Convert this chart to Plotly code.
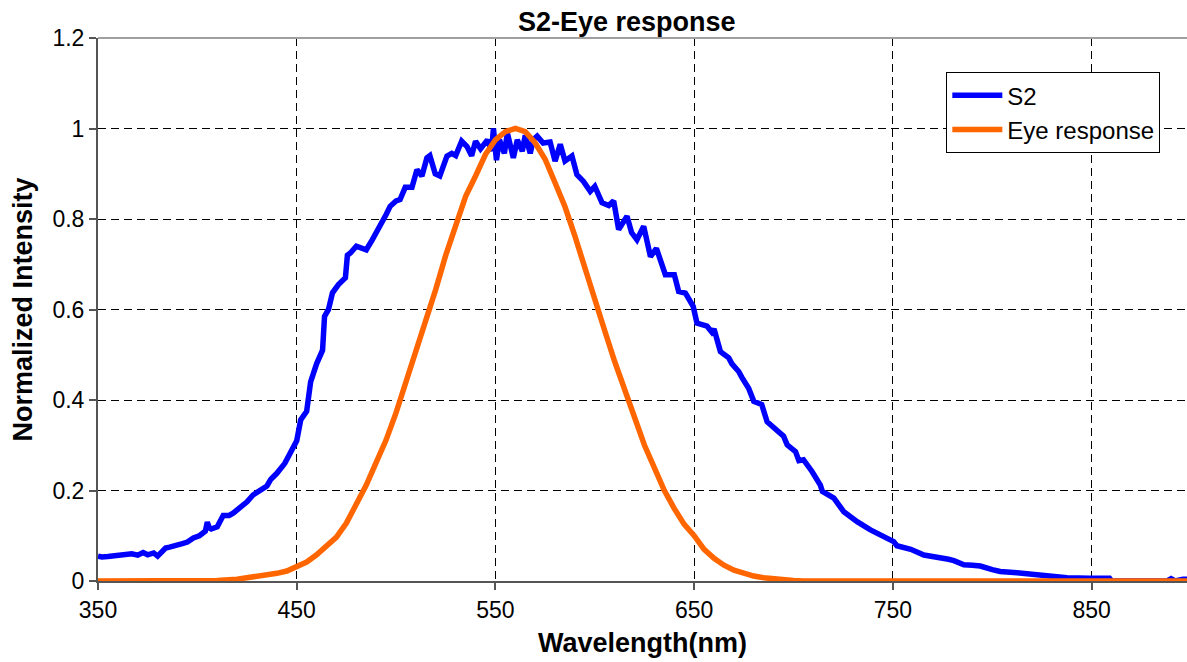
import plotly.graph_objects as go

# S2 spectrum (wavelength nm, normalized intensity)
s2_wl = [350, 352, 355, 358, 361, 364, 367, 370, 372.7, 375, 378, 380, 384, 386, 389, 392, 395, 398, 401,
         404, 405, 406, 407, 410, 413, 416, 418, 421, 425, 428, 432, 435, 437, 440, 444, 447,
         450, 452, 455, 457, 460, 463, 464, 466, 468, 471, 473, 474.5, 475.5, 477, 480, 483, 485, 488,
         492, 495, 497, 500, 502, 504.6, 508, 510.5, 513, 515.5, 517, 519.7, 522, 524, 525.6, 528, 530,
         533, 535.7, 538, 540, 542.5, 546, 548, 549, 550.5, 552, 554.5, 556, 559, 561, 563.5, 565, 567.5,
         569, 571, 574, 577.5, 580, 582.6, 585, 588.5, 591, 594.3, 597.7, 600, 603.6, 607, 609.5, 612,
         614, 616.2, 618.5, 621.2, 624.6, 628, 631, 635.5, 640, 642.2, 645.6, 649.5, 651.4, 656.5, 658.9,
         660, 663.2, 667.4, 669, 672.4, 674, 677.4, 680, 684, 686.7, 691.7, 695, 696.8, 701, 702.7, 705,
         709.3, 711, 713.5, 714.5, 720.3, 725.3, 732, 738.7, 745.4, 750.4, 752, 755.5, 759, 765.6, 770,
         774, 778, 780.7, 785.7, 790, 794, 800, 804, 812.5, 821, 829, 837.6, 849, 859, 860, 888, 890,
         892, 896, 898]
s2_val = [0.055, 0.053, 0.054, 0.056, 0.055, 0.058, 0.060, 0.057, 0.063, 0.058, 0.062, 0.055, 0.073, 0.075, 0.080, 0.082, 0.086, 0.095, 0.100,
          0.110, 0.130, 0.118, 0.115, 0.120, 0.145, 0.145, 0.150, 0.160, 0.175, 0.190, 0.200, 0.210, 0.225, 0.238, 0.260, 0.285,
          0.310, 0.356, 0.375, 0.440, 0.480, 0.510, 0.585, 0.600, 0.637, 0.655, 0.665, 0.670, 0.720, 0.725, 0.740, 0.735, 0.732, 0.754,
          0.784, 0.810, 0.828, 0.840, 0.843, 0.870, 0.870, 0.909, 0.895, 0.935, 0.940, 0.900, 0.895, 0.920, 0.939, 0.945, 0.940,
          0.972, 0.960, 0.940, 0.972, 0.955, 0.975, 0.950, 1.000, 0.930, 0.975, 0.945, 0.990, 0.935, 0.975, 0.950, 0.985, 0.945,
          0.975, 0.983, 0.968, 0.970, 0.928, 0.965, 0.928, 0.939, 0.898, 0.883, 0.861, 0.872, 0.836, 0.830, 0.840, 0.777,
          0.790, 0.806, 0.770, 0.754, 0.784, 0.717, 0.735, 0.677, 0.677, 0.640, 0.636, 0.607, 0.570, 0.563, 0.550,
          0.557, 0.507, 0.493, 0.480, 0.463, 0.450, 0.426, 0.397, 0.390, 0.352, 0.334, 0.320, 0.301, 0.286, 0.266, 0.268,
          0.242, 0.231, 0.212, 0.198, 0.183, 0.153, 0.131, 0.113, 0.098, 0.087, 0.078, 0.075, 0.070, 0.0575, 0.055,
          0.050, 0.048, 0.045, 0.036, 0.035, 0.033, 0.025, 0.021, 0.018, 0.014, 0.011, 0.007, 0.006, 0.006, 0.0, 0.0, 0.005,
          0.0, 0.004, 0.004]

# Eye response (photopic)
eye_wl = [350, 400, 410, 420, 430, 440, 445, 450, 455, 460, 465, 470, 475, 480, 485, 490, 495, 500, 505, 510,
          515, 520, 525, 530, 535, 540, 545, 550, 555, 560, 565, 570, 575, 580, 585, 590, 595, 600, 605, 610,
          615, 620, 625, 630, 635, 640, 645, 650, 655, 660, 665, 670, 675, 680, 685, 690, 695, 700, 705, 900]
eye_val = [0.0, 0.0, 0.001, 0.004, 0.009, 0.017, 0.022, 0.031, 0.042, 0.058, 0.076, 0.097, 0.128, 0.168, 0.212, 0.262, 0.312, 0.372, 0.440, 0.505,
           0.570, 0.645, 0.720, 0.790, 0.850, 0.895, 0.943, 0.975, 0.993, 1.000, 0.993, 0.968, 0.932, 0.880, 0.827, 0.762, 0.690, 0.620, 0.553, 0.485,
           0.425, 0.360, 0.300, 0.250, 0.200, 0.160, 0.125, 0.100, 0.070, 0.050, 0.035, 0.024, 0.016, 0.011, 0.007, 0.004, 0.002, 0.001, 0.0, 0.0]

FONT = "Arial, 'Liberation Sans', sans-serif"

fig = go.Figure()
fig.add_trace(go.Scatter(x=s2_wl, y=s2_val, mode="lines", name="S2",
                         line=dict(color="#0000FF", width=5.5)))
fig.add_trace(go.Scatter(x=eye_wl, y=eye_val, mode="lines", name="Eye response",
                         line=dict(color="#FF6600", width=5.5)))

fig.update_layout(
    width=1187, height=662,
    margin=dict(l=98, r=0, t=38, b=81),
    paper_bgcolor="white", plot_bgcolor="white",
    font=dict(family=FONT, color="black", size=23),
    title=dict(text="<b>S2-Eye response</b>", x=0.528, xanchor="center", y=0.967, yanchor="middle",
               font=dict(family=FONT, size=27, color="black")),
    showlegend=True,
    legend=dict(x=0.779, y=0.937, xanchor="left", yanchor="top",
                bgcolor="white", bordercolor="black", borderwidth=1,
                font=dict(family=FONT, size=24, color="black"),
                tracegroupgap=0, itemwidth=50),
)
fig.update_xaxes(
    range=[350, 898], tick0=350, dtick=100,
    showgrid=True, gridcolor="black", gridwidth=1, griddash="8px,5px",
    showline=True, linecolor="#555555", linewidth=2,
    ticks="outside", ticklen=7, tickcolor="#555555", tickwidth=2,
    zeroline=False,
    tickfont=dict(family=FONT, size=23, color="black"),
    title=dict(text="<b>Wavelength(nm)</b>", font=dict(family=FONT, size=27, color="black"), standoff=12),
)
fig.update_yaxes(
    range=[0, 1.2], tick0=0, dtick=0.2,
    showgrid=True, gridcolor="black", gridwidth=1, griddash="8px,5px",
    showline=True, linecolor="#555555", linewidth=2,
    ticks="outside", ticklen=7, tickcolor="#555555", tickwidth=2,
    zeroline=False,
    tickfont=dict(family=FONT, size=23, color="black"),
    title=dict(text="<b>Normalized Intensity</b>", font=dict(family=FONT, size=27, color="black"), standoff=12),
)
# solid grey top border of the plot area
fig.add_shape(type="line", xref="paper", yref="paper", x0=0, x1=1, y0=1, y1=1,
              line=dict(color="#A0A0A0", width=2))

fig.write_html("out.html")
